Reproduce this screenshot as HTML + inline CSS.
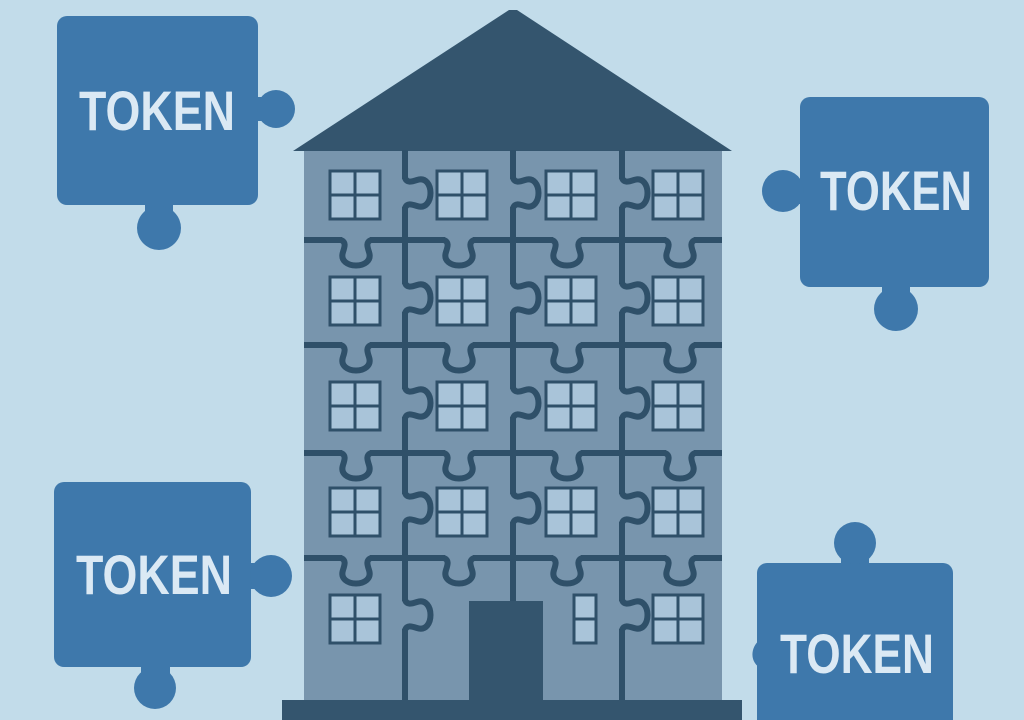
<!DOCTYPE html>
<html><head><meta charset="utf-8"><style>
html,body{margin:0;padding:0;background:#c2dcea;}
svg{display:block}
text{font-family:"Liberation Sans",sans-serif;font-weight:bold;fill:#dbe9f4}
</style></head><body>
<svg width="1024" height="720" viewBox="0 0 1024 720" xmlns="http://www.w3.org/2000/svg">
<defs>
 <g id="w">
  <rect x="0" y="0" width="50" height="48" fill="#a9c4d9" stroke="#2f5069" stroke-width="3"/>
  <line x1="25" y1="0" x2="25" y2="48" stroke="#2f5069" stroke-width="3"/>
  <line x1="0" y1="24" x2="50" y2="24" stroke="#2f5069" stroke-width="3"/>
 </g>
 <g id="vk">
  <rect x="-4" y="1" width="8" height="28" fill="#7895ad"/>
  <path d="M0,0 C2,5 6,4 12,2 C30,-4 30,34 12,28 C6,26 2,25 0,30" stroke="#2f5069" stroke-width="6" fill="none"/>
 </g>
 <g id="hk">
  <rect x="1" y="-4" width="28" height="8" fill="#7895ad"/>
  <path d="M0,0 C5,2 4,6 2,12 C-4,30 34,30 28,12 C26,6 25,2 30,0" stroke="#2f5069" stroke-width="6" fill="none"/>
 </g>
</defs>
<rect width="1024" height="720" fill="#c2dcea"/>
<!-- puzzle pieces -->
<g fill="#3e78ab">
 <rect x="57" y="16" width="201" height="189" rx="10"/>
 <rect x="255" y="97" width="14" height="24"/><circle cx="276" cy="109" r="19"/>
 <rect x="145" y="200" width="28" height="16"/><circle cx="159" cy="228" r="22"/>
 <rect x="800" y="97" width="189" height="190" rx="10"/>
 <rect x="788" y="179" width="17" height="25"/><circle cx="783" cy="191" r="21"/>
 <rect x="882" y="282" width="28" height="16"/><circle cx="896" cy="309" r="22"/>
 <rect x="54" y="482" width="197" height="185" rx="10"/>
 <rect x="246" y="563" width="16" height="26"/><circle cx="271" cy="576" r="21"/>
 <rect x="141" y="662" width="29" height="16"/><circle cx="155" cy="688" r="21"/>
 <rect x="757" y="563" width="196" height="170" rx="10"/>
 <rect x="841" y="552" width="28" height="16"/><circle cx="855" cy="543" r="21"/>
 <path d="M760,640 C752,645 748,660 760,668 Z"/>
</g>
<text x="79" y="130" font-size="56" textLength="156" lengthAdjust="spacingAndGlyphs">TOKEN</text>
<text x="820" y="210" font-size="56" textLength="152" lengthAdjust="spacingAndGlyphs">TOKEN</text>
<text x="76" y="594" font-size="56" textLength="156" lengthAdjust="spacingAndGlyphs">TOKEN</text>
<text x="780" y="673" font-size="56" textLength="154" lengthAdjust="spacingAndGlyphs">TOKEN</text>
<!-- building -->
<rect x="304" y="150" width="418" height="552" fill="#7895ad"/>
<polygon points="293,151 509,10 517,10 732,151" fill="#34556e"/>
<rect x="282" y="700" width="460" height="20" fill="#34556e"/>
<g stroke="#2f5069" stroke-width="6" fill="none">
 <line x1="405" y1="150" x2="405" y2="700"/>
 <line x1="513" y1="150" x2="513" y2="601"/>
 <line x1="622" y1="150" x2="622" y2="700"/>
 <line x1="304" y1="240" x2="722" y2="240"/>
 <line x1="304" y1="345" x2="722" y2="345"/>
 <line x1="304" y1="453" x2="722" y2="453"/>
 <line x1="304" y1="558" x2="722" y2="558"/>
</g>
<rect x="469" y="601" width="74" height="100" fill="#34556e"/>
<g>
 <use href="#vk" x="405" y="178"/><use href="#vk" x="513" y="178"/><use href="#vk" x="622" y="178"/>
 <use href="#vk" x="405" y="283"/><use href="#vk" x="513" y="283"/><use href="#vk" x="622" y="283"/>
 <use href="#vk" x="405" y="388"/><use href="#vk" x="513" y="388"/><use href="#vk" x="622" y="388"/>
 <use href="#vk" x="405" y="493"/><use href="#vk" x="513" y="493"/><use href="#vk" x="622" y="493"/>
 <use href="#vk" x="405" y="600"/><use href="#vk" x="622" y="600"/>
 <use href="#hk" x="341" y="240"/><use href="#hk" x="444" y="240"/><use href="#hk" x="552" y="240"/><use href="#hk" x="665" y="240"/>
 <use href="#hk" x="341" y="345"/><use href="#hk" x="444" y="345"/><use href="#hk" x="552" y="345"/><use href="#hk" x="665" y="345"/>
 <use href="#hk" x="341" y="453"/><use href="#hk" x="444" y="453"/><use href="#hk" x="552" y="453"/><use href="#hk" x="665" y="453"/>
 <use href="#hk" x="341" y="558"/><use href="#hk" x="444" y="558"/><use href="#hk" x="552" y="558"/><use href="#hk" x="665" y="558"/>
</g>
<g>
 <use href="#w" x="330" y="171"/><use href="#w" x="437" y="171"/><use href="#w" x="546" y="171"/><use href="#w" x="653" y="171"/>
 <use href="#w" x="330" y="277"/><use href="#w" x="437" y="277"/><use href="#w" x="546" y="277"/><use href="#w" x="653" y="277"/>
 <use href="#w" x="330" y="382"/><use href="#w" x="437" y="382"/><use href="#w" x="546" y="382"/><use href="#w" x="653" y="382"/>
 <use href="#w" x="330" y="488"/><use href="#w" x="437" y="488"/><use href="#w" x="546" y="488"/><use href="#w" x="653" y="488"/>
 <use href="#w" x="330" y="595"/><use href="#w" x="653" y="595"/>
 <rect x="574" y="595" width="22" height="48" fill="#a9c4d9" stroke="#2f5069" stroke-width="3"/>
 <line x1="574" y1="619" x2="596" y2="619" stroke="#2f5069" stroke-width="3"/>
</g>
</svg>
</body></html>
